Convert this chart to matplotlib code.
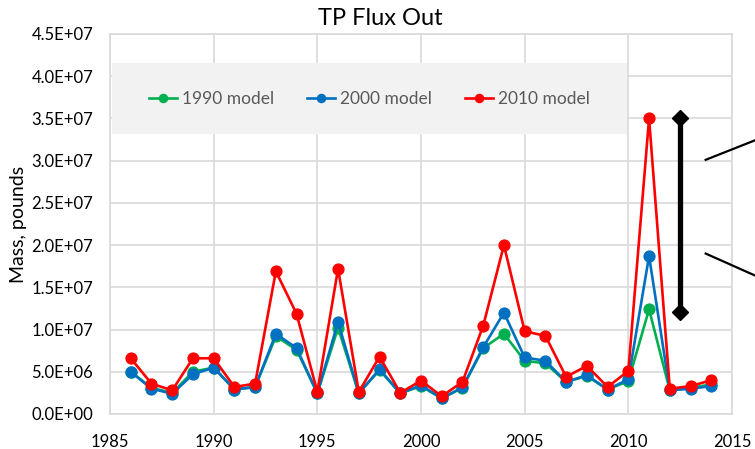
import matplotlib
matplotlib.use("Agg")
import matplotlib.pyplot as plt
from matplotlib.ticker import FuncFormatter, MultipleLocator
from matplotlib.patches import Rectangle

plt.rcParams['font.family'] = ['Lato', 'DejaVu Sans']

years = list(range(1986, 2015))
model_1990 = [5.0e6, 3.1e6, 2.5e6, 5.0e6, 5.5e6, 2.9e6, 3.2e6, 9.2e6, 7.6e6, 2.45e6,
              10.2e6, 2.45e6, 5.2e6, 2.45e6, 3.3e6, 1.85e6, 3.1e6, 7.8e6, 9.5e6, 6.3e6,
              6.0e6, 3.8e6, 4.5e6, 2.9e6, 3.9e6, 12.4e6, 2.8e6, 3.1e6, 3.5e6]
model_2000 = [5.0e6, 3.0e6, 2.4e6, 4.7e6, 5.5e6, 2.9e6, 3.2e6, 9.5e6, 7.8e6, 2.45e6,
              10.9e6, 2.45e6, 5.3e6, 2.45e6, 3.4e6, 1.85e6, 3.15e6, 7.9e6, 12.0e6, 6.7e6,
              6.3e6, 3.8e6, 4.6e6, 2.9e6, 4.1e6, 18.7e6, 2.8e6, 3.0e6, 3.3e6]
model_2010 = [6.6e6, 3.6e6, 2.8e6, 6.6e6, 6.6e6, 3.2e6, 3.6e6, 16.9e6, 11.85e6, 2.6e6,
              17.2e6, 2.6e6, 6.8e6, 2.5e6, 3.95e6, 2.1e6, 3.8e6, 10.45e6, 20.0e6, 9.8e6,
              9.25e6, 4.4e6, 5.7e6, 3.2e6, 5.1e6, 35.0e6, 3.0e6, 3.3e6, 4.0e6]
series_labels = ['1990 model', '2000 model', '2010 model']
series_colors = ['#00b050', '#0070c0', '#ff0000']

range_x = 2012.5
range_low, range_high = 12.1e6, 35.0e6

fig = plt.figure(figsize=(7.55, 4.49), dpi=100)
ax = fig.add_axes([110/755, 35/449, 622/755, 380/449])

for vals, lab, col in zip([model_1990, model_2000, model_2010], series_labels, series_colors):
    ax.plot(years, vals, color=col, lw=1.9, marker='o', ms=7.8, label=lab, zorder=3)

# range bar
ax.plot([range_x, range_x], [range_low, range_high], color='black', lw=3.8,
        marker='D', ms=8, zorder=4)

# callout lines leaving the plot
ax.plot([2013.73, 2016.2], [30.1e6, 32.5e6], color='black', lw=1.6, clip_on=False, zorder=4)
ax.plot([2013.73, 2016.2], [19.0e6, 16.3e6], color='black', lw=1.6, clip_on=False, zorder=4)

ax.set_xlim(1985, 2015)
ax.set_ylim(0, 4.5e7)
ax.xaxis.set_major_locator(MultipleLocator(5))
ax.yaxis.set_major_locator(MultipleLocator(5e6))
ax.yaxis.set_major_formatter(FuncFormatter(lambda v, p: f"{v:.1E}"))
ax.grid(True, color='#d9d9d9', lw=1.2)
ax.set_axisbelow(True)
for s in ax.spines.values():
    s.set_color('#d9d9d9')
    s.set_linewidth(1.2)
ax.tick_params(length=0, labelsize=12, colors='black')
ax.tick_params(axis='y', pad=12)
ax.tick_params(axis='x', pad=14.5)
ax.set_ylabel('Mass, pounds', fontsize=14, labelpad=3)
fig.text(380/755, 1 - 25/449, 'TP Flux Out', fontsize=17, ha='center', va='baseline')

# legend background box
ax.add_patch(Rectangle((0.003, 0.737), 0.828, 0.187, transform=ax.transAxes,
                       facecolor='#f2f2f2', edgecolor='none', zorder=2))
leg = ax.legend(loc='center', bbox_to_anchor=(0.417, 0.83), ncol=3, frameon=False,
                fontsize=12.5, handlelength=1.6, handletextpad=0.3, columnspacing=1.9,
                markerscale=0.75)
leg.set_zorder(5)
for t in leg.get_texts():
    t.set_color('#595959')

fig.savefig('out.png', dpi=100)
